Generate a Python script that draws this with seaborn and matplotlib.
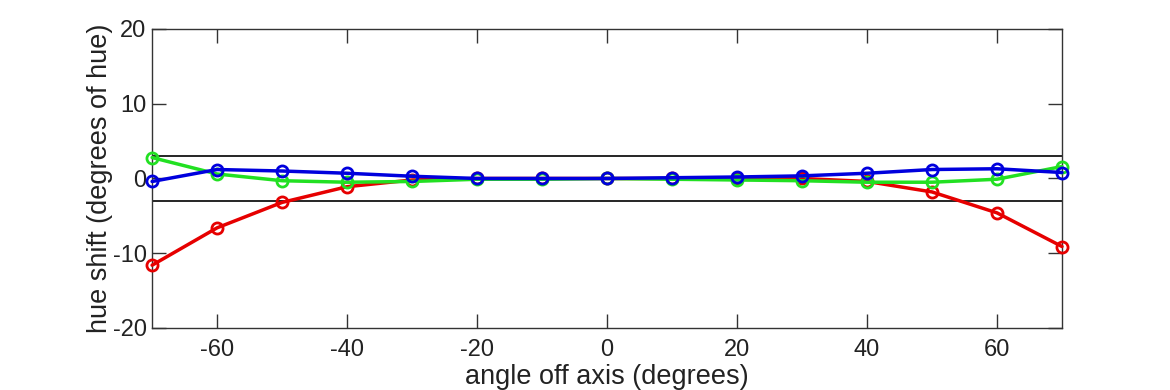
import matplotlib
matplotlib.use("Agg")
import matplotlib.pyplot as plt
import seaborn as sns
import pandas as pd

angles = [-70, -60, -50, -40, -30, -20, -10, 0, 10, 20, 30, 40, 50, 60, 70]
red = [-11.6, -6.6, -3.2, -1.1, -0.2, 0.0, 0.0, 0.0, 0.0, 0.0, 0.0, -0.4, -1.8, -4.6, -9.1]
green = [2.8, 0.6, -0.3, -0.5, -0.4, -0.1, -0.1, 0.0, -0.1, -0.2, -0.3, -0.5, -0.5, -0.1, 1.6]
blue = [-0.4, 1.2, 1.0, 0.7, 0.3, 0.0, 0.0, 0.0, 0.1, 0.2, 0.35, 0.7, 1.2, 1.3, 0.8]
thresholds = [3, -3]
xticks = [-60, -40, -20, 0, 20, 40, 60]
yticks = [-20, -10, 0, 10, 20]

sns.set_style("white")
plt.rcParams['font.family'] = ['Liberation Sans', 'DejaVu Sans']
plt.rcParams['axes.unicode_minus'] = False

fig = plt.figure(figsize=(11.7, 3.9), dpi=100)
ax = fig.add_axes([0.13, 0.159, 0.7777, 0.7667])

for t in thresholds:
    ax.axhline(t, color='black', lw=1.2, zorder=1)

df = pd.DataFrame({
    'angle': angles * 3,
    'shift': red + green + blue,
    'series': ['red'] * len(angles) + ['green'] * len(angles) + ['blue'] * len(angles),
})
palette = {'red': '#e60000', 'green': '#22e022', 'blue': '#0000dd'}
for name in ['red', 'green', 'blue']:
    sub = df[df['series'] == name]
    sns.lineplot(data=sub, x='angle', y='shift', ax=ax, color=palette[name],
                 lw=2.5, marker='o', markersize=8, markerfacecolor='none',
                 markeredgecolor=palette[name], markeredgewidth=2, zorder=3,
                 clip_on=False)

ax.set_xlim(-70, 70)
ax.set_ylim(-20, 20)
ax.set_xticks(xticks)
ax.set_yticks(yticks)
ax.tick_params(direction='in', length=10, width=1, colors='#333333', labelcolor='#222222',
               labelsize=17, top=True, right=True, left=True, bottom=True, pad=8)
ax.tick_params(axis='x', labeltop=False)
ax.tick_params(axis='y', labelright=False, pad=4)
for s in ax.spines.values():
    s.set_color('#333333')
    s.set_linewidth(1)
    s.set_visible(True)
ax.set_xlabel('angle off axis (degrees)', fontsize=19.5, color='#222222', labelpad=2)
ax.set_ylabel('hue shift (degrees of hue)', fontsize=19.5, color='#222222', labelpad=0)

fig.savefig('out.png', dpi=100)
